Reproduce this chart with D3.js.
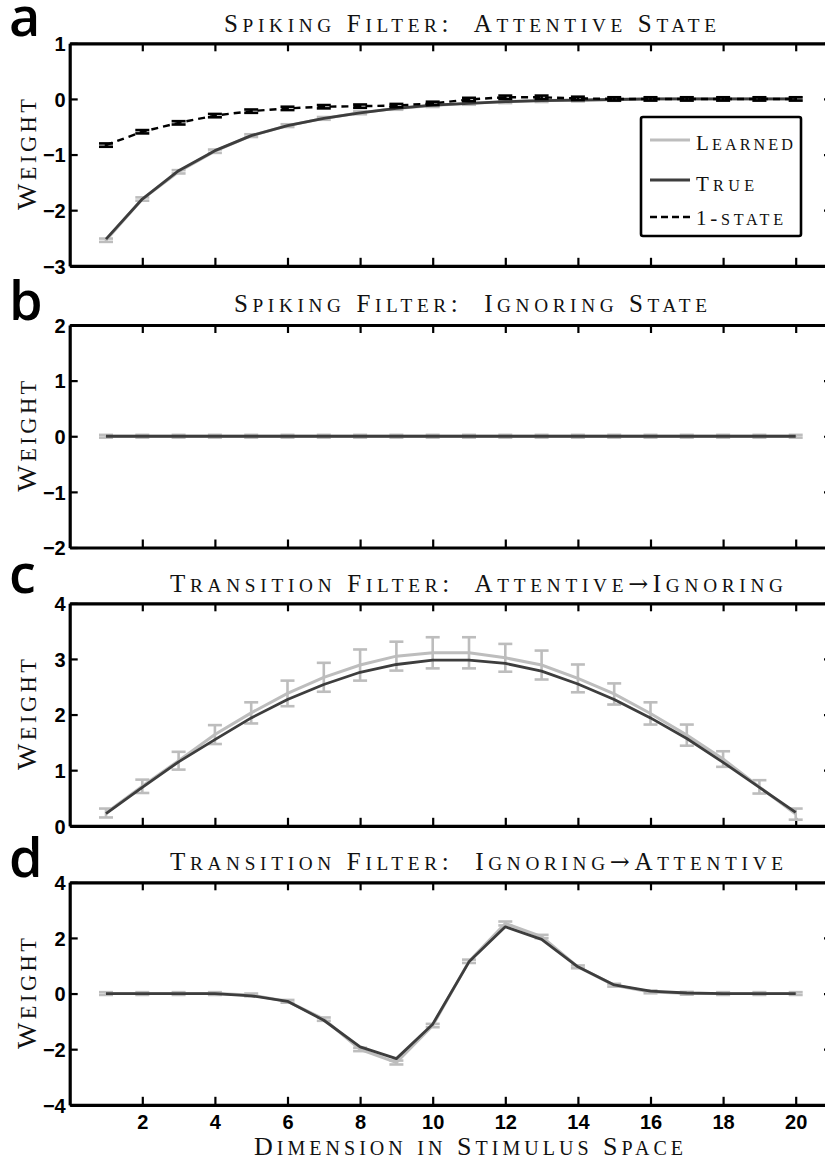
<!DOCTYPE html>
<html>
<head>
<meta charset="utf-8">
<script src="https://cdn.jsdelivr.net/npm/d3@7"></script>
<style>
  html, body { margin: 0; padding: 0; background: #fff; }
  svg { display: block; }
  .sc { font-family: "Liberation Serif", "DejaVu Serif", serif; white-space: pre; fill: #111; }
  .arrow { font-family: "DejaVu Serif", serif; }
  .tick text { font-family: "Liberation Sans", Arial, sans-serif; font-weight: bold; fill: #000; }
</style>
</head>
<body>
<svg id="fig" width="825" height="1161"></svg>
<script>
// ---- data -------------------------------------------------------------
const dims = [1, 2, 3, 4, 5, 6, 7, 8, 9, 10, 11, 12, 13, 14, 15, 16, 17, 18, 19, 20];
const xTickValues = [2, 4, 6, 8, 10, 12, 14, 16, 18, 20];

// (a) spiking filter, attentive state
const aTrue      = [-2.52, -1.80, -1.29, -0.93, -0.66, -0.48, -0.35, -0.25, -0.17, -0.11, -0.08, -0.05, -0.03, -0.02, -0.01, 0, 0, 0, 0, 0];
const aLearned   = [-2.54, -1.80, -1.31, -0.94, -0.66, -0.48, -0.35, -0.25, -0.17, -0.12, -0.08, -0.05, -0.03, -0.02, -0.01, 0, 0, 0, 0, 0];
const aLearnedSE = [0.03, 0.03, 0.03, 0.03, 0.025, 0.025, 0.025, 0.025, 0.025, 0.025, 0.025, 0.025, 0.025, 0.025, 0.025, 0.025, 0.025, 0.025, 0.025, 0.025];
const aOneState  = [-0.83, -0.59, -0.43, -0.30, -0.22, -0.17, -0.14, -0.13, -0.12, -0.08, -0.01, 0.03, 0.03, 0.01, 0, 0, 0, 0, 0, 0];
const aOneStateSE = [0.03, 0.03, 0.03, 0.03, 0.03, 0.03, 0.03, 0.03, 0.03, 0.03, 0.03, 0.03, 0.03, 0.03, 0.03, 0.03, 0.03, 0.03, 0.03, 0.03];

// (b) spiking filter, ignoring state
const bTrue      = [0, 0, 0, 0, 0, 0, 0, 0, 0, 0, 0, 0, 0, 0, 0, 0, 0, 0, 0, 0];
const bLearned   = [0, 0, 0, 0, 0, 0, 0, 0, 0, 0, 0, 0, 0, 0, 0, 0, 0, 0, 0, 0];
const bLearnedSE = [0.025, 0.025, 0.025, 0.025, 0.025, 0.025, 0.025, 0.025, 0.025, 0.025, 0.025, 0.025, 0.025, 0.025, 0.025, 0.025, 0.025, 0.025, 0.025, 0.025];

// (c) transition filter, attentive -> ignoring
const cTrue      = [0.22, 0.69, 1.15, 1.55, 1.94, 2.27, 2.54, 2.76, 2.90, 2.98, 2.98, 2.92, 2.78, 2.55, 2.27, 1.94, 1.57, 1.14, 0.69, 0.24];
const cLearned   = [0.23, 0.71, 1.17, 1.64, 2.03, 2.38, 2.67, 2.89, 3.05, 3.11, 3.11, 3.02, 2.89, 2.65, 2.37, 2.02, 1.63, 1.20, 0.70, 0.21];
const cLearnedSE = [0.08, 0.12, 0.16, 0.17, 0.19, 0.23, 0.26, 0.28, 0.26, 0.28, 0.28, 0.25, 0.26, 0.25, 0.19, 0.20, 0.19, 0.14, 0.12, 0.10];

// (d) transition filter, ignoring -> attentive
const dTrue      = [0, 0, 0, 0, -0.08, -0.28, -0.96, -1.92, -2.34, -1.10, 1.14, 2.40, 1.95, 0.96, 0.31, 0.09, 0.02, 0, 0, 0];
const dLearned   = [0, 0, 0, 0, -0.05, -0.28, -0.92, -2.01, -2.48, -1.15, 1.16, 2.52, 2.05, 0.96, 0.30, 0.06, 0.01, 0, 0, 0];
const dLearnedSE = [0.05, 0.05, 0.05, 0.05, 0.05, 0.05, 0.06, 0.06, 0.07, 0.06, 0.06, 0.07, 0.06, 0.05, 0.05, 0.05, 0.05, 0.05, 0.05, 0.05];

const panelLetters = ["a", "b", "c", "d"];
const panelTitles = [
  "Spiking Filter:  Attentive State",
  "Spiking Filter:  Ignoring State",
  "Transition Filter:  Attentive\u2192Ignoring",
  "Transition Filter:  Ignoring\u2192Attentive"
];
const yDomains = [[-3, 1], [-2, 2], [0, 4], [-4, 4]];
const yTickValues = [[-3, -2, -1, 0, 1], [-2, -1, 0, 1, 2], [0, 1, 2, 3, 4], [-4, -2, 0, 2, 4]];
const yLabel = "Weight";
const xLabel = "Dimension in Stimulus Space";
const legendLabels = ["Learned", "True", "1-state"];

const panelData = [
  { trueW: aTrue, learned: aLearned, se: aLearnedSE, oneState: aOneState, oneSE: aOneStateSE },
  { trueW: bTrue, learned: bLearned, se: bLearnedSE },
  { trueW: cTrue, learned: cLearned, se: cLearnedSE },
  { trueW: dTrue, learned: dLearned, se: dLearnedSE }
];

// ---- layout -----------------------------------------------------------
const svg = d3.select("#fig");
const plotLeft = 69.7, plotRight = 832;
const panelTops = [43.3, 325, 603.3, 882.3];
const panelH = 222.5;
const titleGeom = [
  { x: 224, len: 492, y: 31.5 },
  { x: 234, len: 473, y: 311.7 },
  { x: 170, len: 613, y: 592 },
  { x: 170, len: 613, y: 869.5 }
];
const letterBaselines = [36, 320, 593, 877];

const LIGHT = "#bdbdbd", DARK = "#3d3d3d";
const fmt = d => (d < 0 ? "\u2212" + Math.abs(d) : String(d));

// Small-caps text: capitals at full size, lower-case letters as smaller capitals.
function smallCaps(sel, str, size, ratio) {
  sel.attr("font-size", size);
  const runs = [];
  for (const ch of str) {
    const lower = ch !== ch.toUpperCase();
    const kind = ch === "\u2192" ? "arrow" : (lower ? "small" : "full");
    if (runs.length && runs[runs.length - 1].kind === kind) runs[runs.length - 1].s += ch;
    else runs.push({ kind, s: ch });
  }
  runs.forEach(r => {
    const t = sel.append("tspan").text(r.kind === "small" ? r.s.toUpperCase() : r.s);
    if (r.kind === "small") t.attr("font-size", size * ratio);
    if (r.kind === "arrow") t.attr("class", "arrow").attr("font-size", size * 0.95);
  });
  return sel;
}

const x = d3.scaleLinear().domain([0, 21]).range([plotLeft, plotRight]);

panelData.forEach((pd, i) => {
  const top = panelTops[i], bottom = top + panelH;
  const y = d3.scaleLinear().domain(yDomains[i]).range([bottom, top]);
  const g = svg.append("g");

  // axes with inward ticks on all four sides
  const styleAxis = sel => {
    sel.select(".domain").attr("stroke", "#000").attr("stroke-width", 3.2);
    sel.selectAll(".tick line").attr("stroke", "#000").attr("stroke-width", 2.2);
    sel.attr("font-family", null).attr("font-size", null);
  };
  g.append("g").attr("transform", `translate(${plotLeft},0)`)
    .call(d3.axisLeft(y).tickValues(yTickValues[i]).tickSizeInner(-8).tickSizeOuter(0).tickPadding(4).tickFormat(fmt))
    .call(styleAxis)
    .selectAll("text").attr("font-size", 20).attr("dy", "0.36em");
  g.append("g").attr("transform", `translate(${plotRight},0)`)
    .call(d3.axisRight(y).tickValues(yTickValues[i]).tickSizeInner(-8).tickSizeOuter(0).tickFormat(""))
    .call(styleAxis);
  g.append("g").attr("transform", `translate(0,${top})`)
    .call(d3.axisTop(x).tickValues(xTickValues).tickSizeInner(-8).tickSizeOuter(0).tickFormat(""))
    .call(styleAxis);
  const bottomAxis = g.append("g").attr("transform", `translate(0,${bottom})`)
    .call(d3.axisBottom(x).tickValues(xTickValues).tickSizeInner(-8).tickSizeOuter(0).tickPadding(10)
      .tickFormat(i === 3 ? d => d : ""))
    .call(styleAxis);
  bottomAxis.selectAll("text").attr("font-size", 20);

  const line = d3.line().x((d, k) => x(dims[k])).y(d => y(d));
  const pts = pd.learned.map((v, k) => ({ x: dims[k], v, e: pd.se[k] }));

  // learned filter: line + standard-error bars
  g.append("path").attr("d", line(pd.learned)).attr("fill", "none")
    .attr("stroke", LIGHT).attr("stroke-width", 3);
  const eb = g.append("g").attr("stroke", LIGHT).attr("stroke-width", 2.6);
  pts.forEach(p => {
    const y0 = y(p.v - p.e), y1 = y(p.v + p.e), cx = x(p.x);
    eb.append("line").attr("x1", cx).attr("x2", cx).attr("y1", y0).attr("y2", y1);
    eb.append("line").attr("x1", cx - 7).attr("x2", cx + 7).attr("y1", y0).attr("y2", y0);
    eb.append("line").attr("x1", cx - 7).attr("x2", cx + 7).attr("y1", y1).attr("y2", y1);
  });

  // true filter
  g.append("path").attr("d", line(pd.trueW)).attr("fill", "none")
    .attr("stroke", DARK).attr("stroke-width", 2.8).attr("stroke-linejoin", "round");

  // single-state model fit
  if (pd.oneState) {
    g.append("path").attr("d", line(pd.oneState)).attr("fill", "none")
      .attr("stroke", "#000").attr("stroke-width", 2.4).attr("stroke-dasharray", "7,5");
    const ob = g.append("g").attr("stroke", "#000").attr("stroke-width", 2.6);
    pd.oneState.forEach((v, k) => {
      const e = pd.oneSE[k], cx = x(dims[k]);
      const y0 = y(v - e), y1 = y(v + e);
      ob.append("line").attr("x1", cx).attr("x2", cx).attr("y1", y0).attr("y2", y1);
      ob.append("line").attr("x1", cx - 7).attr("x2", cx + 7).attr("y1", y0).attr("y2", y0);
      ob.append("line").attr("x1", cx - 7).attr("x2", cx + 7).attr("y1", y1).attr("y2", y1);
    });
  }

  // title
  const tg = titleGeom[i];
  smallCaps(g.append("text").attr("class", "sc").attr("x", tg.x).attr("y", tg.y)
    .attr("textLength", tg.len).attr("lengthAdjust", "spacing"), panelTitles[i], 25, 0.77);

  // y-axis label
  const cy = (top + bottom) / 2;
  smallCaps(g.append("text").attr("class", "sc")
    .attr("transform", `translate(36,${cy}) rotate(-90)`)
    .attr("x", -55.5).attr("y", 0)
    .attr("textLength", 111).attr("lengthAdjust", "spacing"), yLabel, 28, 0.8);

  // panel letter
  svg.append("text").attr("x", 9).attr("y", letterBaselines[i])
    .attr("font-family", "'Open Sans', 'Noto Sans', sans-serif").attr("font-weight", 600)
    .attr("font-size", 54).attr("fill", "#000")
    .text(panelLetters[i]);
});

// x-axis label under the last panel
smallCaps(svg.append("text").attr("class", "sc").attr("x", 254).attr("y", 1155)
  .attr("textLength", 429).attr("lengthAdjust", "spacing"), xLabel, 26, 0.77);

// legend for panel (a)
const lg = svg.append("g");
lg.append("rect").attr("x", 641).attr("y", 117).attr("width", 160).attr("height", 119)
  .attr("rx", 2).attr("fill", "#fff").attr("stroke", "#000").attr("stroke-width", 2.6);
const legendRows = [
  { y: 140, base: 150, len: 97, stroke: LIGHT, dash: null, w: 3 },
  { y: 180, base: 191, len: 58, stroke: DARK, dash: null, w: 2.8 },
  { y: 217, base: 224.5, len: 87, stroke: "#000", dash: "7,4", w: 2.4 }
];
legendRows.forEach((r, k) => {
  lg.append("line").attr("x1", 650).attr("x2", 690).attr("y1", r.y).attr("y2", r.y)
    .attr("stroke", r.stroke).attr("stroke-width", r.w).attr("stroke-dasharray", r.dash);
  smallCaps(lg.append("text").attr("class", "sc").attr("x", 696).attr("y", r.base)
    .attr("textLength", r.len).attr("lengthAdjust", "spacing"), legendLabels[k], 21, 0.77);
});
</script>
</body>
</html>
